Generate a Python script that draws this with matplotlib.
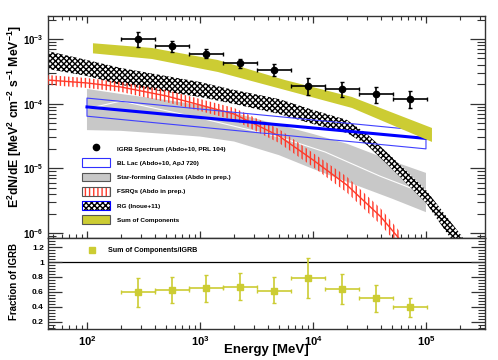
import numpy as np
import matplotlib
matplotlib.use('Agg')
import matplotlib.pyplot as plt
from matplotlib.ticker import LogLocator, NullFormatter, FuncFormatter, MultipleLocator
from matplotlib.patches import Patch
from matplotlib.lines import Line2D
from matplotlib.legend_handler import HandlerTuple

plt.rcParams['font.family'] = ['Liberation Sans', 'DejaVu Sans']
plt.rcParams['font.weight'] = 'bold'
plt.rcParams['mathtext.fontset'] = 'custom'
plt.rcParams['mathtext.rm'] = 'Liberation Sans:bold'
plt.rcParams['mathtext.bf'] = 'Liberation Sans:bold'
plt.rcParams['mathtext.it'] = 'Liberation Sans:bold'
plt.rcParams['hatch.linewidth'] = 1.0

# ── IGRB spectrum (Abdo+10) ────────────────────────────────────────────────
igrb_elo  = [200, 400, 800, 1600, 3200, 6400, 12800, 25600, 51200]
igrb_ehi  = [400, 800, 1600, 3200, 6400, 12800, 25600, 51200, 102400]
igrb_flux = [1.0e-3, 7.8e-4, 5.86e-4, 4.21e-4, 3.32e-4, 1.88e-4, 1.67e-4, 1.41e-4, 1.18e-4]
igrb_up   = [1.30e-3, 9.3e-4, 6.93e-4, 4.85e-4, 4.06e-4, 2.47e-4, 2.19e-4, 1.79e-4, 1.57e-4]
igrb_dn   = [7.6e-4, 6.4e-4, 5.04e-4, 3.60e-4, 2.68e-4, 1.36e-4, 1.28e-4, 1.01e-4, 8.5e-5]

# ── ratio sum / IGRB ───────────────────────────────────────────────────────
ratio    = [0.595, 0.626, 0.649, 0.67, 0.617, 0.783, 0.639, 0.514, 0.394]
ratio_up = [0.787, 0.805, 0.828, 0.85, 0.797, 1.052, 0.837, 0.693, 0.523]
ratio_dn = [0.398, 0.45, 0.469, 0.49, 0.447, 0.523, 0.434, 0.335, 0.267]

# ── sum of components band ─────────────────────────────────────────────────
sum_e  = [113, 376, 1440, 5650, 22100, 113000]
sum_hi = [8.6e-4, 7.26e-4, 4.73e-4, 2.32e-4, 1.27e-4, 4.21e-5]
sum_lo = [6.0e-4, 4.91e-4, 3.09e-4, 1.63e-4, 8.59e-5, 2.56e-5]

# ── radio galaxies (Inoue+11) ──────────────────────────────────────────────
rg_e  = [45, 100, 200, 500, 1000, 2000, 5000, 1e4, 2e4, 3e4, 5e4, 1e5, 2e5, 3e5]
rg_hi = [6.5e-4, 4.73e-4, 3.56e-4, 2.68e-4, 2.16e-4, 1.63e-4, 1.18e-4, 8.0e-5,
         5.6e-5, 3.4e-5, 1.5e-5, 4.63e-6, 9.7e-7, 3.57e-7]
rg_lo = [3.44e-4, 2.68e-4, 1.95e-4, 1.52e-4, 1.27e-4, 9.9e-5, 6.93e-5, 4.85e-5,
         3.52e-5, 2.3e-5, 9.8e-6, 2.92e-6, 5.1e-7, 1.9e-7]

# ── FSRQs ──────────────────────────────────────────────────────────────────
fsrq_e   = [45, 100, 200, 500, 1000, 2000, 5000, 1e4, 2e4, 4e4, 6e4]
fsrq_mid = [2.32e-4, 2.09e-4, 1.81e-4, 1.32e-4, 9.55e-5, 6.93e-5, 3.17e-5, 1.35e-5, 5.5e-6, 1.77e-6, 7.6e-7]
fsrq_hi  = [2.77e-4, 2.49e-4, 2.16e-4, 1.63e-4, 1.18e-4, 8.6e-5, 4.06e-5, 1.73e-5, 7.4e-6, 2.36e-6, 1.0e-6]
fsrq_lo  = [1.95e-4, 1.75e-4, 1.52e-4, 1.06e-4, 7.7e-5, 5.6e-5, 2.47e-5, 1.05e-5, 4.2e-6, 1.33e-6, 5.7e-7]

# ── BL Lacs ────────────────────────────────────────────────────────────────
bll_e   = [100, 1e5]
bll_mid = [8.9e-5, 2.9e-5]
bll_hi  = [1.22e-4, 3.8e-5]
bll_lo  = [6.4e-5, 2.0e-5]

# ── star-forming galaxies ──────────────────────────────────────────────────
sfg_e  = [100, 200, 500, 1000, 2000, 5000, 1e4, 2e4, 5e4, 1e5]
sfg_hi = [1.69e-4, 1.41e-4, 1.14e-4, 9.5e-5, 7.2e-5, 4.7e-5, 3.4e-5, 2.4e-5, 1.3e-5, 8.5e-6]
sfg_lo = [3.9e-5, 3.8e-5, 3.4e-5, 3.1e-5, 2.6e-5, 1.6e-5, 9.8e-6, 6.2e-6, 3.4e-6, 2.1e-6]
sfg_mid_e = [100, 200, 1000, 5000, 12800, 39000, 77000, 100000]
sfg_mid   = [8.3e-5, 1.1e-4, 6.0e-5, 3.06e-5, 1.79e-5, 7.6e-6, 4.8e-6, 4.0e-6]

YEL = '#cccc33'
GRAY = '#c8c8c8'
RED = '#ff3a2a'

fig = plt.figure(figsize=(4.98, 3.6), dpi=100)
ax = fig.add_axes([0.0964, 0.3389, 0.8775, 0.6167])
axr = fig.add_axes([0.0964, 0.0861, 0.8775, 0.2528], sharex=ax)

ax.set_xscale('log')
ax.set_yscale('log')
ax.set_xlim(45.2, 3.33e5)
ax.set_ylim(8.37e-7, 2.27e-3)

# bands
ax.fill_between(sfg_e, sfg_lo, sfg_hi, facecolor=GRAY, edgecolor='none', zorder=1)
ax.plot(sfg_mid_e, sfg_mid, color='white', lw=0.8, zorder=1.5)
ax.fill_between(rg_e, rg_lo, rg_hi, facecolor='white', edgecolor='black', hatch='xxxxxx',
                lw=0, zorder=2)
ax.fill_between(fsrq_e, fsrq_lo, fsrq_hi, facecolor='none', edgecolor=RED, hatch='||||',
                lw=0, zorder=3)
ax.plot(fsrq_e, fsrq_mid, color=RED, lw=1.0, zorder=3)
ax.fill_between(bll_e, bll_lo, bll_hi, facecolor='none', edgecolor='#4040ff', lw=0.8, zorder=4)
ax.plot(bll_e, bll_mid, color='#0000ff', lw=2.2, zorder=4)
ax.fill_between(sum_e, sum_lo, sum_hi, facecolor=YEL, edgecolor='none', zorder=5)

# IGRB points
ig_e = np.sqrt(np.array(igrb_elo) * np.array(igrb_ehi))
ig_f = np.array(igrb_flux)
ax.errorbar(ig_e, ig_f,
            xerr=[ig_e - np.array(igrb_elo), np.array(igrb_ehi) - ig_e],
            yerr=[ig_f - np.array(igrb_dn), np.array(igrb_up) - ig_f],
            fmt='o', color='black', ms=4.5, elinewidth=1.2, capsize=1.5, capthick=1.0, zorder=6)

# legend (top panel)
handles = [
    Line2D([], [], marker='o', color='black', ls='none', ms=4.5),
    Patch(facecolor='white', edgecolor='#3030ff', lw=0.8),
    Patch(facecolor=GRAY, edgecolor='#555555', lw=0.8),
    (Patch(facecolor='white', edgecolor=RED, hatch='||||', lw=0),
     Patch(fill=False, edgecolor='#555555', lw=0.8)),
    (Patch(facecolor='white', edgecolor='black', hatch='xxxxxx', lw=0),
     Patch(fill=False, edgecolor='#0000ff', lw=0.8)),
    Patch(facecolor=YEL, edgecolor='#555555', lw=0.8),
]
labels = ['IGRB Spectrum (Abdo+10, PRL 104)', 'BL Lac (Abdo+10, ApJ 720)',
          'Star-forming Galaxies (Abdo in prep.)', 'FSRQs (Abdo in prep.)',
          'RG (Inoue+11)', 'Sum of Components']
ax.legend(handles, labels, loc='upper left', bbox_to_anchor=(0.078, 0.423),
          frameon=False, fontsize=4.6, handlelength=4.4, handleheight=1.75,
          labelspacing=0.85, handletextpad=1.1, borderpad=0, borderaxespad=0,
          handler_map={tuple: HandlerTuple(ndivide=1)})

# ratio panel
axr.set_ylim(0.1, 1.325)
axr.axhline(1.0, color='black', lw=0.9, zorder=1)
r = np.array(ratio)
axr.errorbar(ig_e, r,
             xerr=[ig_e - np.array(igrb_elo), np.array(igrb_ehi) - ig_e],
             yerr=[r - np.array(ratio_dn), np.array(ratio_up) - r],
             fmt='s', color=YEL, ms=4.5, elinewidth=1.2, capsize=1.5, capthick=1.0, zorder=3)
axr.legend([Line2D([], [], marker='s', color=YEL, ls='none', ms=4.5)],
           ['Sum of Components/IGRB'],
           loc='upper left', bbox_to_anchor=(0.0915, 0.90), frameon=False, fontsize=5.1,
           handlelength=1.2, handletextpad=1.6, borderpad=0, borderaxespad=0)

# axes styling
dec_fmt = FuncFormatter(lambda v, p: r'$\mathbf{10^{%d}}$' % round(np.log10(v)))
for a in (ax, axr):
    for s in a.spines.values():
        s.set_color('#333333')
        s.set_linewidth(1.0)
    a.xaxis.set_major_locator(LogLocator(base=10, numticks=12))
    a.xaxis.set_minor_locator(LogLocator(base=10, subs=np.arange(2, 10), numticks=12))
    a.xaxis.set_minor_formatter(NullFormatter())

ax.yaxis.set_major_locator(LogLocator(base=10, numticks=12))
ax.yaxis.set_minor_locator(LogLocator(base=10, subs=np.arange(2, 10), numticks=12))
ax.yaxis.set_major_formatter(dec_fmt)
ax.yaxis.set_minor_formatter(NullFormatter())
ax.tick_params(axis='x', which='major', direction='in', length=5, width=0.9,
               top=True, bottom=True, labelbottom=False, colors='#333333')
ax.tick_params(axis='x', which='minor', direction='in', length=2.8, width=0.8,
               top=True, bottom=True, colors='#333333')
ax.tick_params(axis='y', which='major', direction='in', length=11, width=0.9,
               left=True, right=True, labelsize=7, pad=3, colors='#333333', labelcolor='black')
ax.tick_params(axis='y', which='minor', direction='in', length=6, width=0.8,
               left=True, right=True, colors='#333333')

axr.xaxis.set_major_formatter(dec_fmt)
axr.yaxis.set_major_locator(MultipleLocator(0.2))
axr.yaxis.set_minor_locator(MultipleLocator(0.04))
axr.yaxis.set_major_formatter(FuncFormatter(lambda v, p: '%g' % round(v, 2)))
axr.tick_params(axis='x', which='major', direction='in', length=5, width=0.9,
                top=False, bottom=True, labelsize=8, pad=4, colors='#333333', labelcolor='black')
axr.tick_params(axis='x', which='minor', direction='in', length=2.8, width=0.8,
                top=False, bottom=True, colors='#333333')
axr.tick_params(axis='y', which='major', direction='in', length=10, width=0.9,
                left=True, right=True, labelsize=6, pad=3, colors='#333333', labelcolor='black')
axr.tick_params(axis='y', which='minor', direction='in', length=5, width=0.8,
                left=True, right=True, colors='#333333')

ax.set_ylabel(r'E$^{2}$dN/dE [MeV$^{2}$ cm$^{-2}$ s$^{-1}$ MeV$^{-1}$]',
              fontsize=8.8, fontweight='bold')
ax.yaxis.set_label_coords(-0.056, 0.545)
axr.set_ylabel('Fraction of IGRB', fontsize=7, fontweight='bold')
axr.yaxis.set_label_coords(-0.066, 0.52)
axr.set_xlabel('Energy [MeV]', fontsize=9.5, fontweight='bold')
axr.xaxis.set_label_coords(0.5, -0.17)

fig.savefig('out.png', dpi=100, facecolor='white')
